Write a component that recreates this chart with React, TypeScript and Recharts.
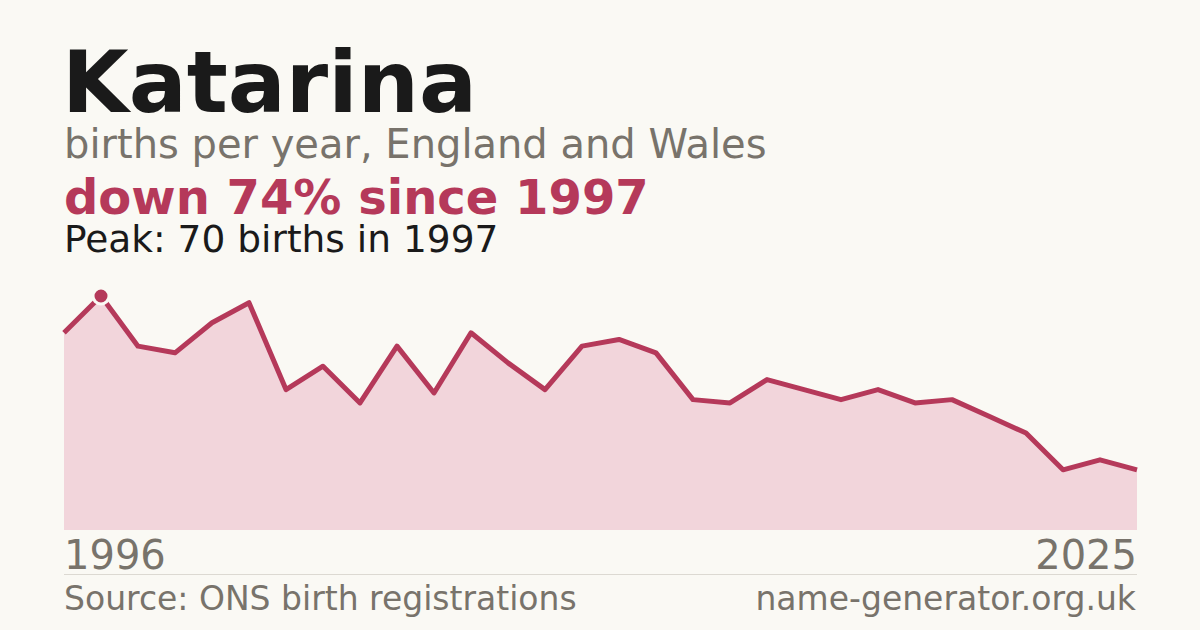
import React from "react"
import { Area, AreaChart, ReferenceDot, XAxis, YAxis } from "recharts"

const years = [
  "1996", "1997", "1998", "1999", "2000", "2001", "2002", "2003", "2004", "2005",
  "2006", "2007", "2008", "2009", "2010", "2011", "2012", "2013", "2014", "2015",
  "2016", "2017", "2018", "2019", "2020", "2021", "2022", "2023", "2024", "2025",
]
const births = [
  59, 70, 55, 53, 62, 68, 42, 49, 38, 55,
  41, 59, 50, 42, 55, 57, 53, 39, 38, 45,
  42, 39, 42, 38, 39, 34, 29, 18, 21, 18,
]
const edgeTicks = ["1996", "2025"]
const peakYear = "1997"
const peakValue = 70

const BG = "#faf9f4"
const ACCENT = "#b5395a"
const GREY = "#78736b"
const FONT = "'DejaVu Sans', Verdana, sans-serif"

const data = years.map((year, i) => ({ year, births: births[i] }))

function EdgeTick(props: any) {
  const { x, y, payload } = props
  const anchor = payload.value === edgeTicks[0] ? "start" : "end"
  return (
    <text x={x} y={y} dy={31} textAnchor={anchor} fill={GREY} fontSize={40} fontFamily={FONT}>
      {payload.value}
    </text>
  )
}

export default function App() {
  return (
    <div
      style={{
        position: "absolute",
        left: 0,
        top: 0,
        width: 1200,
        height: 630,
        background: BG,
        fontFamily: FONT,
        overflow: "hidden",
      }}
    >
      <div style={{ position: "absolute", left: 62, top: 46, fontSize: 86, fontWeight: 700, color: "#1a1a1a", lineHeight: 0.85 }}>
        Katarina
      </div>
      <div style={{ position: "absolute", left: 64, top: 127, fontSize: 40, color: GREY, lineHeight: 0.85 }}>
        births per year, England and Wales
      </div>
      <div style={{ position: "absolute", left: 64, top: 177, fontSize: 48, fontWeight: 700, color: ACCENT, lineHeight: 0.85 }}>
        down 74% since 1997
      </div>
      <div style={{ position: "absolute", left: 64, top: 224, fontSize: 37.5, color: "#1a1a1a", lineHeight: 0.85 }}>
        Peak: 70 births in 1997
      </div>

      <div style={{ position: "absolute", left: 0, top: 0 }}>
        <AreaChart width={1200} height={630} data={data} margin={{ top: 296, right: 63, bottom: 60, left: 64 }}>
          <XAxis
            dataKey="year"
            ticks={edgeTicks}
            interval={0}
            axisLine={false}
            tickLine={false}
            height={40}
            tick={<EdgeTick />}
          />
          <YAxis hide domain={[0, peakValue]} />
          <Area
            type="linear"
            dataKey="births"
            stroke={ACCENT}
            strokeWidth={5}
            strokeLinejoin="round"
            fill="#f2d5db"
            fillOpacity={1}
            dot={false}
            activeDot={false}
            isAnimationActive={false}
          />
          <ReferenceDot x={peakYear} y={peakValue} r={8} fill={ACCENT} stroke={BG} strokeWidth={3} />
        </AreaChart>
      </div>

      <div style={{ position: "absolute", left: 64, top: 574, width: 1073, height: 1, background: "#dcd9d2" }} />
      <div style={{ position: "absolute", left: 64, top: 585, fontSize: 33, color: GREY, lineHeight: 0.85 }}>
        Source: ONS birth registrations
      </div>
      <div style={{ position: "absolute", right: 64, top: 585, fontSize: 33, color: GREY, lineHeight: 0.85 }}>
        name-generator.org.uk
      </div>
    </div>
  )
}
